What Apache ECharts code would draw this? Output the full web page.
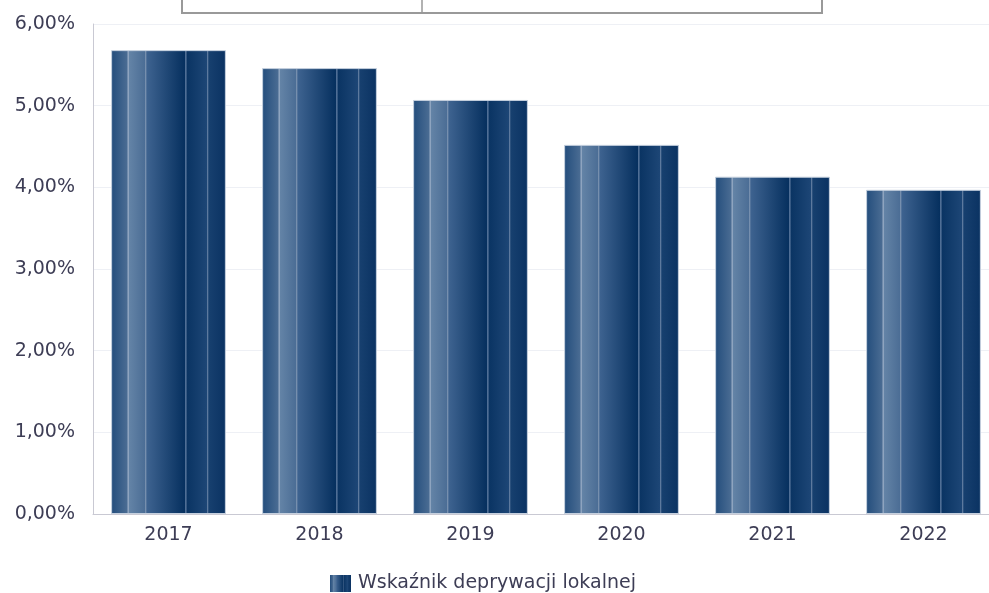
<!DOCTYPE html>
<html>
<head>
<meta charset="utf-8">
<script src="https://cdn.jsdelivr.net/npm/echarts@6/dist/echarts.min.js"></script>
<style>
  html, body { margin: 0; padding: 0; background: #fff; overflow: hidden; }
  /* the plot runs about 10px past the right edge of the window */
  #chart { width: 999px; height: 593px; }
</style>
</head>
<body>
<div id="chart"></div>
<script>
// data
var years = ['2017', '2018', '2019', '2020', '2021', '2022'];
var deprivation = [5.68, 5.46, 5.07, 4.52, 4.13, 3.97];
var seriesName = 'Wskaźnik deprywacji lokalnej';

// striped navy gradient like the original bars
var barFill = new echarts.graphic.LinearGradient(0, 0, 1, 0, [
  { offset: 0, color: '#234d7c' },
  { offset: 0.14, color: '#4a6c93' },
  { offset: 0.145, color: '#8ea4bf' },
  { offset: 0.155, color: '#8ea4bf' },
  { offset: 0.16, color: '#6383a6' },
  { offset: 0.295, color: '#4b6d95' },
  { offset: 0.30, color: '#7a92b0' },
  { offset: 0.305, color: '#7a92b0' },
  { offset: 0.31, color: '#3e6390' },
  { offset: 0.64, color: '#06305f' },
  { offset: 0.645, color: '#4f6e95' },
  { offset: 0.655, color: '#4f6e95' },
  { offset: 0.66, color: '#0a3463' },
  { offset: 0.835, color: '#1d4676' },
  { offset: 0.84, color: '#5f7b9f' },
  { offset: 0.845, color: '#5f7b9f' },
  { offset: 0.85, color: '#17406f' },
  { offset: 1, color: '#0a3262' }
]);

var txt = '#3d3d55';
var myChart = echarts.init(document.getElementById('chart'));
var option = {
  backgroundColor: '#fff',
  animation: false,
  textStyle: { fontFamily: 'DejaVu Sans' },
  grid: { left: 93, right: 0, top: 24, bottom: 79, containLabel: false },
  legend: {
    left: 325,
    top: 569,
    icon: 'rect',
    itemWidth: 21,
    itemHeight: 17,
    itemGap: 6,
    itemStyle: { borderWidth: 0 },
    textStyle: { fontSize: 19, color: txt, fontFamily: 'DejaVu Sans', padding: [0, 0, 0, 2] },
    data: [seriesName]
  },
  xAxis: {
    type: 'category',
    data: years,
    axisLine: { lineStyle: { color: '#c9c9d3' } },
    axisTick: { show: false },
    axisLabel: { fontSize: 19, color: txt, margin: 12 }
  },
  yAxis: {
    type: 'value',
    min: 0,
    max: 6,
    interval: 1,
    axisLine: { show: true, lineStyle: { color: '#c9c9d3' } },
    axisTick: { show: false },
    splitLine: { lineStyle: { color: '#eef0f5' } },
    axisLabel: {
      fontSize: 19,
      color: txt,
      margin: 18,
      formatter: function (v) { return v.toFixed(2).replace('.', ',') + '%'; }
    }
  },
  series: [{
    name: seriesName,
    type: 'bar',
    data: deprivation,
    barCategoryGap: '24%',
    itemStyle: { color: barFill, borderColor: '#c5d0de', borderWidth: 1 }
  }],
  graphic: [
    {
      type: 'rect',
      shape: { x: 182, y: -10, width: 640, height: 23 },
      style: { fill: 'none', stroke: '#999', lineWidth: 2 }
    },
    {
      type: 'line',
      shape: { x1: 422, y1: -10, x2: 422, y2: 13 },
      style: { stroke: '#999', lineWidth: 1.5 }
    }
  ]
};
myChart.setOption(option);
window.addEventListener('resize', myChart.resize);
</script>
</body>
</html>
